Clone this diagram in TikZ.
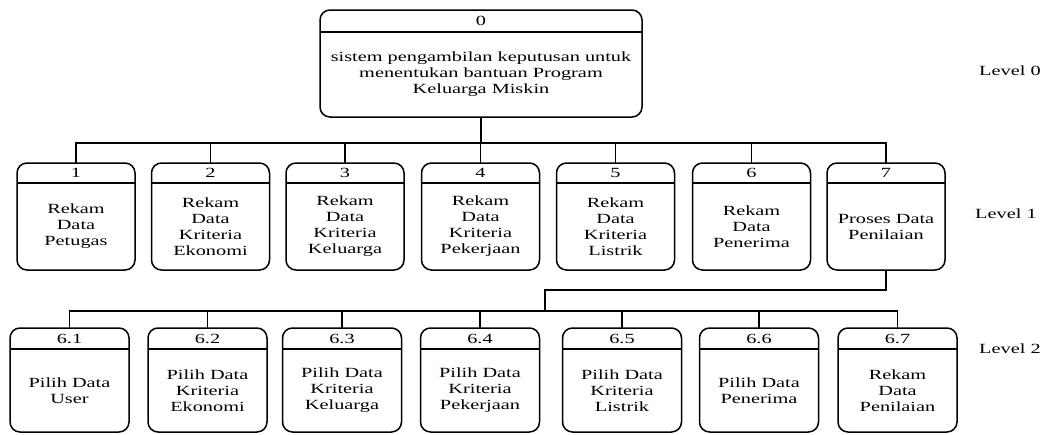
\documentclass[tikz,border=0pt]{standalone}
\usepackage{fontspec}
\setmainfont{Liberation Serif}[FakeStretch=1.45]
\usetikzlibrary{calc}
\tikzset{
  procshape/.style={draw, line width=1.5pt, rounded corners=10pt, inner sep=0pt, outer sep=0pt},
  boxline/.style={line width=1.5pt},
  conn/.style={line width=1.5pt},
  numtext/.style={font=\fontsize{14}{16}\selectfont, inner sep=0pt},
  bodytext/.style={font=\fontsize{14}{16}\selectfont, align=center, inner sep=0pt},
  lvl/.style={font=\fontsize{14}{16}\selectfont, anchor=west, inner sep=0pt}
}
\newcommand{\procbox}[8]{%
  \node[procshape, minimum width=#4pt, minimum height=#5pt, anchor=north] (#1) at (#2,#3) {};
  \draw[boxline] ([yshift=-#6pt]#1.north west) -- ([yshift=-#6pt]#1.north east);
  \node[numtext] (#1num) at ([yshift=-#6pt/2]#1.north) {#7};
  \node[bodytext] (#1txt) at ($([yshift=-#6pt]#1.north)!0.5!(#1.south)$) {#8};
}
\begin{document}
\begin{tikzpicture}[x=1pt,y=-1pt]
\useasboundingbox (0,0) rectangle (1047,434);
% top
\procbox{top}{481}{10}{322}{107}{22}{0}{sistem pengambilan keputusan untuk\\menentukan bantuan Program\\Keluarga Miskin}
% level 1
\procbox{b1}{76}{163}{118}{107}{20}{1}{Rekam\\Data\\Petugas}
\procbox{b2}{210.5}{163}{118}{107}{20}{2}{Rekam\\Data\\Kriteria\\Ekonomi}
\procbox{b3}{345}{163}{118}{107}{20}{3}{Rekam\\Data\\Kriteria\\Keluarga}
\procbox{b4}{480.5}{163}{118}{107}{20}{4}{Rekam\\Data\\Kriteria\\Pekerjaan}
\procbox{b5}{615.5}{163}{118}{107}{20}{5}{Rekam\\Data\\Kriteria\\Listrik}
\procbox{b6}{751.5}{163}{118}{107}{20}{6}{Rekam\\Data\\Penerima}
\procbox{b7}{886}{163}{118}{107}{20}{7}{Proses Data\\Penilaian}
% level 2
\procbox{c1}{69.5}{328}{119}{104}{21}{6.1}{Pilih Data\\User}
\procbox{c2}{207.5}{328}{119}{104}{21}{6.2}{Pilih Data\\Kriteria\\Ekonomi}
\procbox{c3}{342}{328}{119}{104}{21}{6.3}{Pilih Data\\Kriteria\\Keluarga}
\procbox{c4}{480}{328}{119}{104}{21}{6.4}{Pilih Data\\Kriteria\\Pekerjaan}
\procbox{c5}{622}{328}{119}{104}{21}{6.5}{Pilih Data\\Kriteria\\Listrik}
\procbox{c6}{759}{328}{119}{104}{21}{6.6}{Pilih Data\\Penerima}
\procbox{c7}{897.5}{328}{119}{104}{21}{6.7}{Rekam\\Data\\Penilaian}
% level labels
\node[lvl] (l0) at (979,71) {Level 0};
\node[lvl] (l1) at (975,214) {Level 1};
\node[lvl] (l2) at (979,349) {Level 2};
% connectors level 0 -> 1
\coordinate (bus1) at (481,143);
\foreach \n in {b1,b2,b3,b4,b5,b6,b7}{
  \draw[conn] (top.south) -- (bus1) -| (\n.north);
}
% connectors level 1 -> 2
\coordinate (j1) at (545,290);
\coordinate (bus2) at (545,311);
\draw[conn] (b7.south) |- (j1) -- (bus2);
\foreach \n in {c1,c2,c3,c4,c5,c6,c7}{
  \draw[conn] (bus2) -| (\n.north);
}
\end{tikzpicture}
\end{document}
